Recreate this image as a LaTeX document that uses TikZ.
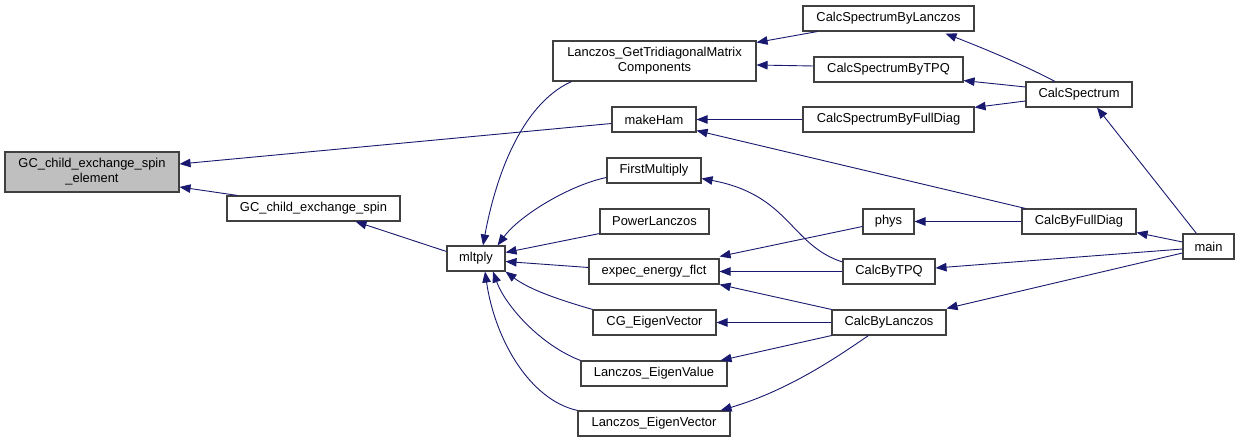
\documentclass[tikz,border=0pt]{standalone}
\usepackage{fontspec}
\setmainfont{Liberation Sans}
\usetikzlibrary{arrows.meta,calc}
\definecolor{edgec}{HTML}{191970}
\definecolor{boxc}{HTML}{404040}
\definecolor{hl}{HTML}{BFBFBF}
\begin{document}
\begin{tikzpicture}[x=1pt,y=-1pt,
 fn/.style={draw=boxc,line width=1.1pt,fill=white,inner sep=0pt,minimum height=25pt,
   font=\fontsize{12.9}{15}\selectfont,align=center},
 edge/.style={draw=edgec,line width=0.9pt,-{Triangle[length=11pt,width=8.5pt]}}]
\useasboundingbox (0,0) rectangle (1240,443);
\fill[white] (0,0) rectangle (1240,443);
% nodes
\node[fn,fill=hl,minimum width=174pt,minimum height=40pt] (elem) at (92,172) {GC\_child\_exchange\_spin\\\_element};
\node[fn,minimum width=173pt] (spin) at (313.5,208.5) {GC\_child\_exchange\_spin};
\node[fn,minimum width=58pt] (mltply) at (476,258.5) {mltply};
\node[fn,minimum width=203pt,minimum height=40pt] (lgt) at (654.5,61) {Lanczos\_GetTridiagonalMatrix\\Components};
\node[fn,minimum width=84pt] (makeHam) at (654,119.5) {makeHam};
\node[fn,minimum width=94pt] (fm) at (654,170.5) {FirstMultiply};
\node[fn,minimum width=109pt] (pl) at (654.5,221.5) {PowerLanczos};
\node[fn,minimum width=130pt] (expec) at (654,271.5) {expec\_energy\_flct};
\node[fn,minimum width=123pt] (cg) at (654.5,322.5) {CG\_EigenVector};
\node[fn,minimum width=146pt] (lev) at (654,373.5) {Lanczos\_EigenValue};
\node[fn,minimum width=152pt] (levec) at (654,423.5) {Lanczos\_EigenVector};
\node[fn,minimum width=171pt] (csl) at (888.5,18.5) {CalcSpectrumByLanczos};
\node[fn,minimum width=149pt] (cst) at (888.5,69.5) {CalcSpectrumByTPQ};
\node[fn,minimum width=171pt] (csf) at (888.5,119.5) {CalcSpectrumByFullDiag};
\node[fn,minimum width=106pt] (cs) at (1079,94.5) {CalcSpectrum};
\node[fn,minimum width=51pt] (phys) at (888.5,221.5) {phys};
\node[fn,minimum width=114pt] (cfd) at (1079,221.5) {CalcByFullDiag};
\node[fn,minimum width=51pt] (main) at (1208.5,246.5) {main};
\node[fn,minimum width=92pt] (ctpq) at (889,271.5) {CalcByTPQ};
\node[fn,minimum width=114pt] (cl) at (889,322.5) {CalcByLanczos};
% edges
\draw[edge] ($(makeHam.west)+(0,4)$) -- ($(elem.east)+(0,-8)$);
\draw[edge] ($(spin.north west)+(11,0)$) -- ($(elem.east)+(0,15)$);
\draw[edge] ($(mltply.west)+(0,-7)$) -- ($(spin.south east)+(-45,0)$);
\draw[edge] ($(lgt.south west)+(19,0)$) .. controls (520,105) and (495,180) .. ($(mltply.north)+(7,0)$);
\draw[edge] ($(fm.west)+(0,7)$) .. controls (570,185) and (520,215) .. ($(mltply.north east)+(-8,0)$);
\draw[edge] ($(pl.south west)+(0,-1)$) -- ($(mltply.east)+(0,-6)$);
\draw[edge] ($(expec.west)+(0,-4)$) -- ($(mltply.east)+(0,3)$);
\draw[edge] (cg.north west) .. controls (560,300) and (530,290) .. (mltply.south east);
\draw[edge] (lev.north west) .. controls (540,345) and (505,305) .. ($(mltply.south)+(17,0)$);
\draw[edge] (levec.north west) .. controls (530,400) and (495,340) .. ($(mltply.south)+(9,0)$);
\draw[edge] ($(csl.south west)+(15,0)$) -- ($(lgt.north east)+(0,2)$);
\draw[edge] ($(cst.west)+(0,-3.5)$) -- ($(lgt.east)+(0,4)$);
\draw[edge] (csf.west) -- (makeHam.east);
\draw[edge] ($(cfd.north west)+(4,0)$) -- ($(makeHam.south east)+(0,-2)$);
\draw[edge] ($(ctpq.west)+(0,-9.5)$) .. controls (790,245) and (790,195) .. ($(fm.east)+(0,8)$);
\draw[edge] ($(phys.west)+(0,5)$) -- ($(expec.north east)+(0,-2)$);
\draw[edge] (ctpq.west) -- (expec.east);
\draw[edge] (cl.north west) -- (expec.south east);
\draw[edge] (cl.west) -- (cg.east);
\draw[edge] (cl.south west) -- ($(lev.north east)+(-7,0)$);
\draw[edge] ($(cl.south west)+(37,0)$) .. controls (840,355) and (790,390) .. ($(levec.north east)+(-10,0)$);
\draw[edge] ($(cs.north)+(-24,0)$) .. controls (1020,63) and (975,45) .. ($(csl.south east)+(-29,2)$);
\draw[edge] ($(cs.west)+(0,-7.5)$) -- ($(cst.south east)+(0,-2)$);
\draw[edge] ($(cs.west)+(0,6.5)$) -- ($(csf.north east)+(0,1)$);
\draw[edge] ($(main.north west)+(14,0)$) -- ($(cs.south)+(18,0)$);
\draw[edge] (cfd.west) -- (phys.east);
\draw[edge] ($(main.west)+(0,-4.5)$) -- ($(cfd.south east)+(0,-2)$);
\draw[edge] ($(main.west)+(0,2.5)$) -- ($(ctpq.east)+(0,-3.5)$);
\draw[edge] ($(main.west)+(0,6.5)$) -- ($(cl.north east)+(0,-1)$);
\end{tikzpicture}
\end{document}
